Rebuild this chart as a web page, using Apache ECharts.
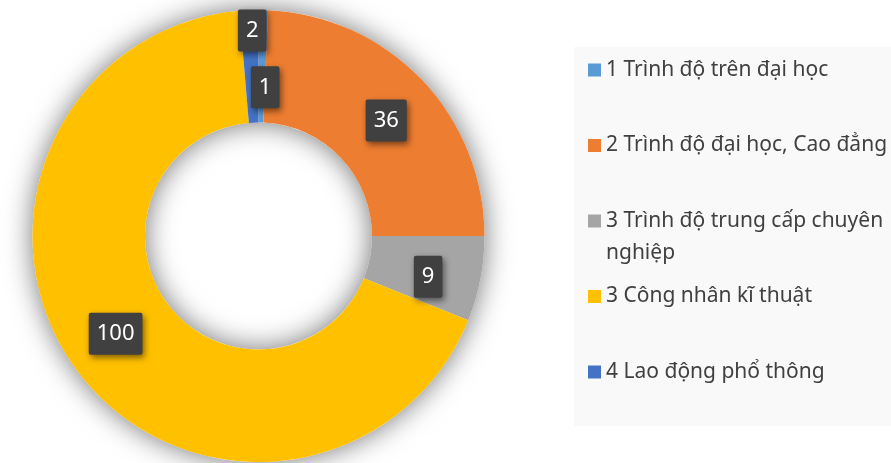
<!DOCTYPE html>
<html>
<head>
<meta charset="utf-8">
<script src="https://cdn.jsdelivr.net/npm/echarts@6/dist/echarts.min.js"></script>
<style>
  html, body { margin: 0; padding: 0; background: #fff; }
  #main { width: 891px; height: 463px; }
</style>
</head>
<body>
<div id="main"></div>
<script>
var myChart = echarts.init(document.getElementById('main'));

// data
var categories = [
    '1 Trình độ trên đại học',
    '2 Trình độ đại học, Cao đẳng',
    '3 Trình độ trung cấp chuyên nghiệp',
    '3 Công nhân kĩ thuật',
    '4 Lao động phổ thông'
];
var values = [1, 36, 9, 100, 2];

// styles
var colors = ['#5B9BD5', '#ED7D31', '#A5A5A5', '#FFC000', '#4472C4'];
var labelShift = [[3, 24], [3, 4], [0, 8], [-4, -5], [1, -33]]; // Excel moved the small ones apart

var font = '"Noto Sans", "Open Sans", sans-serif';

var pieData = categories.map(function (name, i) {
    return { name: name, value: values[i], itemStyle: { color: colors[i] } };
});

var option = {
    animation: false,
    color: colors,
    graphic: [
        {
            type: 'rect',
            z: -10,
            shape: { x: 574, y: 47, width: 317, height: 379 },
            style: { fill: '#f9f9f9' }
        },
        {
            // second line of the wrapped legend entry
            type: 'text',
            left: 606,
            top: 243,
            style: {
                text: 'nghiệp',
                font: '21px "Noto Sans", "Open Sans", sans-serif',
                fill: '#404040'
            }
        }
    ],
    legend: {
        orient: 'vertical',
        left: 588,
        top: 54,
        padding: 0,
        itemWidth: 13,
        itemHeight: 13,
        itemGap: 43.5,
        icon: 'rect',
        selectedMode: false,
        formatter: function (name) {
            // wrap the long one like the original
            return name === categories[2] ? '3 Trình độ trung cấp chuyên' : name;
        },
        textStyle: {
            fontFamily: font,
            fontSize: 21,
            lineHeight: 32,
            color: '#404040'
        },
        data: categories
    },
    series: [
        {
            // shadow ring behind the donut
            type: 'pie',
            silent: true,
            z: 1,
            center: [258.5, 236],
            radius: [113.5, 226],
            label: { show: false },
            labelLine: { show: false },
            itemStyle: {
                color: '#ffffff',
                shadowBlur: 28,
                shadowColor: 'rgba(0,0,0,0.55)'
            },
            tooltip: { show: false },
            data: [{ name: '', value: 1 }]
        },
        {
            name: 'Trình độ',
            type: 'pie',
            z: 2,
            center: [258.5, 236],
            radius: [113.5, 226],
            startAngle: 90,
            clockwise: true,
            avoidLabelOverlap: false,
            label: {
                show: true,
                position: 'inside',
                formatter: '{c}',
                fontFamily: font,
                fontSize: 22,
                lineHeight: 26,
                color: '#ffffff',
                backgroundColor: '#404040',
                padding: [8, 8, 8, 8],
                borderRadius: 2,
                shadowBlur: 6,
                shadowColor: 'rgba(0,0,0,0.5)',
                shadowOffsetX: 2,
                shadowOffsetY: 3
            },
            labelLayout: function (params) {
                var s = labelShift[params.dataIndex];
                return { dx: s[0], dy: s[1] };
            },
            labelLine: { show: false },
            data: pieData
        }
    ]
};

option && myChart.setOption(option);
</script>
</body>
</html>
